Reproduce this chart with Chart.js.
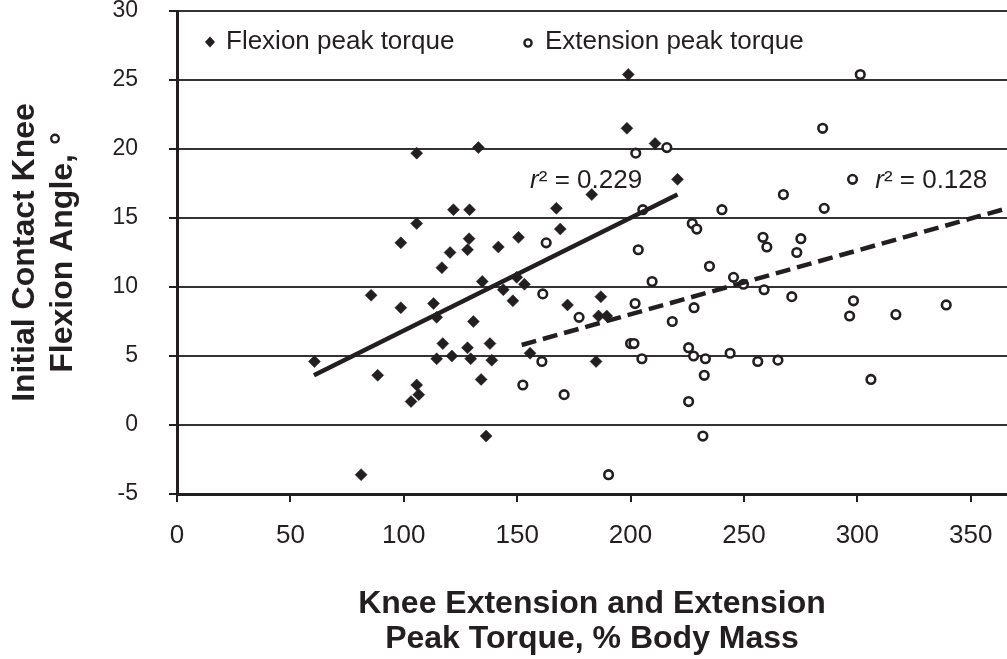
<!DOCTYPE html>
<html>
<head>
<meta charset="utf-8">
<script src="https://cdn.jsdelivr.net/npm/chart.js@4.4.1/dist/chart.umd.min.js"></script>
<style>
  html, body { margin: 0; padding: 0; background: #fff; }
  canvas { display: block; }
</style>
</head>
<body>
<canvas id="grafico" width="1007" height="659"></canvas>
<script>
// flexion peak torque (diamonds)
const flexionTorque = [199, 198.4, 210.8, 132.9, 105.7, 220.7, 182.9, 167.3, 121.9, 129,
    105.7, 169, 150.6, 128.8, 98.7, 141.7, 128.1, 120.4, 116.8, 149.8,
    134.6, 153.2, 143.9, 85.6, 186.9, 148.1, 113.1, 172.2, 98.7, 185.9,
    189.5, 114.5, 130.7, 117.2, 138, 128.1, 155.7, 121.2, 114.5, 129.5,
    138.8, 60.6, 184.8, 88.5, 134.1, 105.7, 106.6, 103.2, 136.3, 81.2];
const flexionAngle = [25.4, 21.5, 20.4, 20.1, 19.7, 17.8, 16.7, 15.7, 15.6, 15.6,
    14.6, 14.2, 13.6, 13.5, 13.2, 12.9, 12.7, 12.5, 11.4, 10.7,
    10.4, 10.2, 9.8, 9.4, 9.3, 9.0, 8.8, 8.7, 8.5, 7.9,
    7.9, 7.8, 7.5, 5.9, 5.9, 5.6, 5.2, 5.0, 4.8, 4.8,
    4.7, 4.6, 4.6, 3.6, 3.3, 2.9, 2.2, 1.7, -0.8, -3.6];

// extension peak torque (open circles)
const extensionTorque = [301.3, 284.7, 216, 202.3, 297.9, 267.4, 285.4, 205.4, 240.3, 227.2,
    229.2, 258.4, 275.1, 162.8, 260.1, 203.4, 273.3, 234.8, 245.4, 209.5,
    249.8, 258.9, 161.3, 271.1, 298.3, 202, 339.2, 228, 317, 296.6,
    177.3, 218.4, 200, 201.5, 225.6, 243.9, 227.8, 205, 233, 265,
    160.9, 256.1, 232.5, 306, 152.5, 170.7, 225.6, 231.9, 190.3];
const extensionAngle = [25.4, 21.5, 20.1, 19.7, 17.8, 16.7, 15.7, 15.6, 15.6, 14.6,
    14.2, 13.6, 13.5, 13.2, 12.9, 12.7, 12.5, 11.5, 10.7, 10.4,
    10.2, 9.8, 9.5, 9.3, 9.0, 8.8, 8.7, 8.5, 8.0, 7.9,
    7.8, 7.5, 5.9, 5.9, 5.6, 5.2, 5.0, 4.8, 4.8, 4.7,
    4.6, 4.6, 3.6, 3.3, 2.9, 2.2, 1.7, -0.8, -3.6];

// linhas de tendencia (pontas)
const flexionTrendX = [60.4, 220.7];
const flexionTrendY = [3.6, 16.7];
const extensionTrendX = [152, 366];
const extensionTrendY = [5.8, 15.7];

const rSquared = ['0.229', '0.128'];
const legendNames = ['Flexion peak torque', 'Extension peak torque'];
const xTitle = ['Knee Extension and Extension', 'Peak Torque, % Body Mass'];
const yTitle = ['Initial Contact Knee', 'Flexion Angle, °'];

const tinta = '#231f20';
const fonte = "'Liberation Sans', Arial, sans-serif";

function pares(xs, ys) {
    return xs.map((v, i) => ({ x: v, y: ys[i] }));
}

// tira o padding extra que o Chart.js poe por causa dos rotulos
function semPadding(s) {
    s.paddingTop = 0;
    s.paddingBottom = 0;
    s.paddingLeft = 0;
    s.paddingRight = 0;
}

const notas = {
    id: 'notas',
    afterDatasetsDraw(chart) {
        const { ctx, chartArea: a, scales: { x, y } } = chart;
        ctx.save();
        ctx.fillStyle = tinta;
        ctx.strokeStyle = tinta;
        ctx.textBaseline = 'middle';
        ctx.textAlign = 'left';

        // legenda dentro da area
        const ly = a.top + 31;
        ctx.beginPath();
        const dx = a.left + 33;
        ctx.moveTo(dx, ly - 5.5);
        ctx.lineTo(dx + 5, ly);
        ctx.lineTo(dx, ly + 5.5);
        ctx.lineTo(dx - 5, ly);
        ctx.closePath();
        ctx.fill();
        ctx.font = '26px ' + fonte;
        ctx.fillText(legendNames[0], a.left + 49, ly);

        ctx.beginPath();
        ctx.lineWidth = 2.4;
        ctx.arc(a.left + 351, ly + 1, 3.6, 0, Math.PI * 2);
        ctx.stroke();
        ctx.fillText(legendNames[1], a.left + 368, ly);

        // r²
        const spots = [[155.7, 17.7], [307.9, 17.7]];
        spots.forEach((p, i) => {
            const px = x.getPixelForValue(p[0]);
            const py = y.getPixelForValue(p[1]);
            ctx.font = 'italic 26px ' + fonte;
            ctx.fillText('r', px, py);
            const w = ctx.measureText('r').width;
            ctx.font = '26px ' + fonte;
            ctx.fillText('² = ' + rSquared[i], px + w, py);
        });
        ctx.restore();
    }
};

new Chart(document.getElementById('grafico'), {
    type: 'scatter',
    data: {
        datasets: [
            {
                label: 'flexion trend',
                data: pares(flexionTrendX, flexionTrendY),
                showLine: true,
                borderColor: tinta,
                borderWidth: 4.5,
                pointRadius: 0,
                order: 0
            },
            {
                label: 'extension trend',
                data: pares(extensionTrendX, extensionTrendY),
                showLine: true,
                borderColor: tinta,
                borderWidth: 4.5,
                borderDash: [15, 7],
                pointRadius: 0,
                order: 0
            },
            {
                label: legendNames[0],
                data: pares(flexionTorque, flexionAngle),
                pointStyle: 'rectRot',
                pointRadius: 6,
                borderWidth: 0.5,
                borderColor: tinta,
                backgroundColor: tinta,
                order: 1
            },
            {
                label: legendNames[1],
                data: pares(extensionTorque, extensionAngle),
                pointStyle: 'circle',
                pointRadius: 4.3,
                borderWidth: 2.6,
                borderColor: tinta,
                backgroundColor: '#ffffff',
                order: 2
            }
        ]
    },
    options: {
        responsive: false,
        animation: false,
        devicePixelRatio: 1,
        layout: { autoPadding: false, padding: { top: 11, right: 0, bottom: 0, left: 0 } },
        plugins: {
            legend: { display: false },
            tooltip: { enabled: false }
        },
        scales: {
            x: {
                type: 'linear',
                min: 0,
                max: 366,
                afterFit: s => { s.height = 165; semPadding(s); },
                ticks: {
                    stepSize: 50,
                    includeBounds: false,
                    padding: 18,
                    color: tinta,
                    font: { family: fonte, size: 26 }
                },
                grid: {
                    drawOnChartArea: false,
                    drawTicks: true,
                    tickLength: 8,
                    tickColor: tinta,
                    lineWidth: 2
                },
                border: { color: tinta, width: 3 },
                title: {
                    display: true,
                    text: xTitle,
                    color: tinta,
                    padding: { top: 0, bottom: 2 },
                    font: { family: fonte, size: 32, weight: 'bold', lineHeight: '35px' }
                }
            },
            y: {
                min: -5,
                max: 30,
                afterFit: s => { s.width = 177; semPadding(s); },
                ticks: {
                    stepSize: 5,
                    padding: 31,
                    color: tinta,
                    font: { family: fonte, size: 23, lineHeight: 1 }
                },
                grid: {
                    color: '#333333',
                    lineWidth: 2,
                    tickLength: 8,
                    tickColor: tinta
                },
                border: { color: tinta, width: 3 },
                title: {
                    display: true,
                    text: yTitle,
                    color: tinta,
                    padding: { top: 6, bottom: 0 },
                    font: { family: fonte, size: 32, weight: 'bold', lineHeight: '38px' }
                }
            }
        }
    },
    plugins: [notas]
});
</script>
</body>
</html>
